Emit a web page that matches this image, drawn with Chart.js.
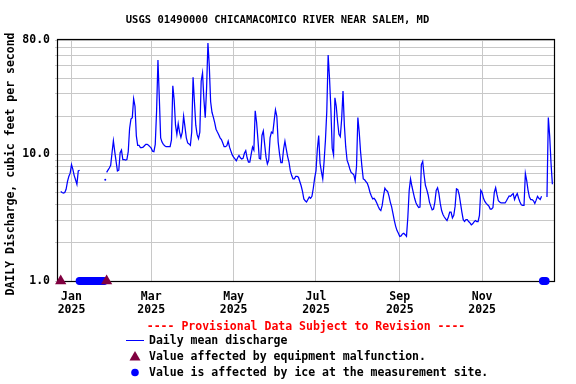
<!DOCTYPE html>
<html>
<head>
<meta charset="utf-8">
<script src="https://cdn.jsdelivr.net/npm/chart.js@4"></script>
<style>
  html, body { margin: 0; padding: 0; background: #fff; }
  #c { display: block; }
</style>
</head>
<body>
<canvas id="c" width="576" height="384"></canvas>
<script>
// ---- Data (day offsets relative to 2025-01-01) ----
const chartTitle = "USGS 01490000 CHICAMACOMICO RIVER NEAR SALEM, MD";
const yAxisTitle = "DAILY Discharge, cubic feet per second";
const provisionalText = "---- Provisional Data Subject to Revision ----";
const legendLabels = [
  "Daily mean discharge",
  "Value affected by equipment malfunction.",
  "Value is affected by ice at the measurement site."
];

const firstDay = -8; // Dec 24, 2024
const dailyFlow = [
  // Dec 24 .. Jan 7
  5.1, 5.0, 4.95, 5.0, 5.3, 6.1, 6.7, 7.1, 8.3, 7.6, 6.8, 6.3, 5.8, 7.4, 7.5,
  // d7..d24 (no data)
  null, null, null, null, null, null, null, null, null, null, null, null, null, null, null, null, null, null,
  // d25
  6.3,
  // d26..d223
  7.2, 7.5, 7.8, 8.2, 10.3, 12.8, 10.5, 8.8, 7.4, 7.5,
  10.3, 10.8, 9.1, 9.1, 9.0, 9.1, 10.5, 16, 19.0, 19.5,
  27.5, 24, 14, 11.8, 11.8, 11.3, 11.3, 11.4, 11.7, 12.0,
  12.0, 11.8, 11.5, 11.2, 10.6, 10.5, 12, 22.1, 55.7, 28,
  13.5, 12.5, 12.0, 11.7, 11.5, 11.5, 11.5, 11.5, 13, 34.8,
  27, 17, 14.4, 17.5, 15, 13.6, 15, 20, 16.5, 13.5,
  12.3, 12.1, 11.8, 15, 40.6, 26, 17, 14.3, 13.3, 15,
  38, 44, 27.3, 19.5, 33.2, 75.6, 50, 26, 21.5, 19.7,
  17.8, 15.8, 15, 14.3, 13.5, 13.1, 12.3, 11.5, 11.5, 11.7,
  12.7, 11.4, 10.6, 9.9, 9.5, 9.2, 8.9, 9.4, 9.8, 9.4,
  9.2, 9.3, 10.2, 10.7, 9.4, 8.7, 8.7, 10, 11.4, 10.8,
  22.1, 18, 13.2, 9.3, 9.2, 14.1, 15.3, 12, 9.5, 8.4,
  9.0, 13.5, 15, 14.7, 18.3, 22.5, 20, 12.5, 10.1, 8.6,
  8.6, 11, 12.7, 11, 9.6, 8.7, 7.4, 6.8, 6.4, 6.4,
  6.7, 6.7, 6.6, 6.1, 5.65, 5.1, 4.45, 4.3, 4.2, 4.4,
  4.6, 4.5, 4.66, 5.4, 6.5, 7.4, 11, 14.1, 8.5, 7.3,
  6.4, 8.8, 13, 22, 61, 40, 23, 11.2, 9.9, 28,
  24, 18, 14.4, 13.8, 19, 31.7, 17, 11.5, 9.0, 8.4,
  7.7, 7.2, 7.06, 6.9, 6.2, 8, 19.5, 15, 10.5, 8.0,
  6.4, 6.3, 6.1, 5.9, 5.5, 5.0, 4.7, 4.45,
  // d224..d348
  4.5, 4.35, 4.13, 3.9, 3.7, 3.6, 3.95, 4.7, 5.4, 5.2,
  5.1, 4.7, 4.2, 3.85, 3.4, 3.0, 2.7, 2.5, 2.38, 2.25,
  2.27, 2.35, 2.38, 2.32, 2.25, 3.2, 5.2, 6.4, 5.6, 5.0,
  4.5, 4.15, 3.95, 3.8, 3.84, 8.3, 8.8, 6.9, 5.7, 5.27,
  4.8, 4.2, 3.9, 3.65, 3.7, 4.2, 5.2, 5.45, 4.9, 4.1,
  3.6, 3.35, 3.2, 3.1, 3.0, 3.2, 3.5, 3.5, 3.15, 3.3,
  3.9, 5.35, 5.27, 4.8, 4.1, 3.5, 3.05, 2.95, 3.05, 3.05,
  2.95, 2.88, 2.78, 2.83, 2.93, 3.0, 2.95, 2.95, 3.3, 5.2,
  5.0, 4.5, 4.25, 4.1, 4.0, 3.9, 3.7, 3.7, 3.8, 5.0,
  5.45, 4.8, 4.3, 4.2, 4.13, 4.13, 4.13, 4.13, 4.3, 4.5,
  4.7, 4.66, 4.8, 4.9, 4.4, 4.7, 4.9, 4.5, 4.2, 4.0,
  3.95, 3.95, 7.06, 6.2, 5.2, 4.6, 4.4, 4.4, 4.3, 4.1,
  4.35, 4.66, 4.5, 4.4, 4.66,
  // d349..d351 (ice, no data)
  null, null, null,
  // d352..d356
  4.6, 19.5, 14, 8.5, 5.8
];
const lineBreakAfterDays = [25];            // record breaks between d25 and d26
const equipmentDays = [-8, 26];             // equipment malfunction markers
const iceDays = [6,7,8,9,10,11,12,13,14,15,16,17,18,19,20,21,22,23,24, 349,350,351];
const markerValue = 1.0;                    // markers sit on the bottom axis

const xMinDay = -10, xMaxDay = 357.2;
const tickDays   = [0, 59, 120, 181, 243, 304];
const tickMonths = ["Jan", "Mar", "May", "Jul", "Sep", "Nov"];
const tickYears  = ["2025", "2025", "2025", "2025", "2025", "2025"];
const yMin = 1, yMax = 80;
const yGridValues  = [1,2,3,4,5,6,7,8,9,10,20,30,40,50,60,70,80];
const yLabelValues = [1, 10, 80];

// ---- Styling ----
const FONT = '"DejaVu Sans Mono", "Liberation Mono", monospace';
const BLUE = '#0000ff';
const MAROON = '#800040';
const GRID = '#c8c8c8';

const flowPoints = dailyFlow.map((v, i) => ({ x: firstDay + i, y: v }));

function isIsolated(i) {
  const v = dailyFlow[i];
  if (v == null) return false;
  const d = firstDay + i;
  const prevMissing = i === 0 || dailyFlow[i - 1] == null || lineBreakAfterDays.includes(d - 1);
  const nextMissing = i === dailyFlow.length - 1 || dailyFlow[i + 1] == null || lineBreakAfterDays.includes(d);
  return prevMissing && nextMissing;
}

const framePlugin = {
  id: 'frame',
  beforeDatasetsDraw(chart) {
    const { ctx, chartArea: a } = chart;
    ctx.save();
    ctx.strokeStyle = '#000';
    ctx.lineWidth = 1.2;
    ctx.strokeRect(Math.round(a.left) - 0.5, Math.round(a.top) - 0.5,
                   Math.round(a.right - a.left) + 1, Math.round(a.bottom - a.top) + 1);
    ctx.restore();
  },
  afterDraw(chart) {
    const { ctx, chartArea: a } = chart;
    ctx.save();
    ctx.fillStyle = '#000';
    ctx.textBaseline = 'middle';
    // title
    ctx.font = 'bold 10.5px ' + FONT;
    ctx.textAlign = 'center';
    ctx.fillText(chartTitle, 277.5, 20.5);
    // y-axis title
    ctx.save();
    ctx.font = 'bold 11.5px ' + FONT;
    ctx.translate(11.5, 164);
    ctx.rotate(-Math.PI / 2);
    ctx.fillText(yAxisTitle, 0, 0);
    ctx.restore();
    // provisional text
    ctx.font = 'bold 11.5px ' + FONT;
    ctx.fillStyle = '#ff0000';
    ctx.textAlign = 'center';
    ctx.fillText(provisionalText, (a.left + a.right) / 2, 327);
    // legend
    ctx.fillStyle = '#000';
    ctx.textAlign = 'left';
    const rows = [341, 357, 373];
    legendLabels.forEach((t, i) => ctx.fillText(t, 149, rows[i]));
    // legend symbols
    ctx.strokeStyle = BLUE;
    ctx.lineWidth = 1;
    ctx.beginPath();
    ctx.moveTo(126, 340.5);
    ctx.lineTo(144, 340.5);
    ctx.stroke();
    ctx.fillStyle = MAROON;
    ctx.beginPath();
    ctx.moveTo(135, 351);
    ctx.lineTo(140.5, 360.5);
    ctx.lineTo(129.5, 360.5);
    ctx.closePath();
    ctx.fill();
    ctx.fillStyle = BLUE;
    ctx.beginPath();
    ctx.arc(135, 372.5, 3.8, 0, Math.PI * 2);
    ctx.fill();
    ctx.restore();
  }
};

new Chart(document.getElementById('c'), {
  type: 'line',
  data: {
    datasets: [
      {
        label: 'Value affected by equipment malfunction.',
        data: equipmentDays.map(d => ({ x: d, y: markerValue })),
        showLine: false,
        pointStyle: 'triangle',
        pointRadius: 6.5,
        pointBackgroundColor: MAROON,
        pointBorderWidth: 0,
        clip: false
      },
      {
        label: 'Value is affected by ice at the measurement site.',
        data: iceDays.map(d => ({ x: d, y: markerValue })),
        showLine: false,
        pointStyle: 'circle',
        pointRadius: 4,
        pointBackgroundColor: BLUE,
        pointBorderWidth: 0,
        clip: false
      },
      {
        label: 'Daily mean discharge',
        data: flowPoints,
        borderColor: BLUE,
        borderWidth: 1.25,
        tension: 0,
        spanGaps: false,
        fill: false,
        pointRadius: ctx => isIsolated(ctx.dataIndex) ? 1 : 0,
        pointBackgroundColor: BLUE,
        pointBorderWidth: 0,
        segment: {
          borderColor: ctx => lineBreakAfterDays.includes(ctx.p0.parsed.x) ? 'rgba(0,0,0,0)' : BLUE
        }
      }
    ]
  },
  options: {
    responsive: false,
    animation: false,
    devicePixelRatio: 1,
    events: [],
    layout: { padding: { left: 0, right: 22, top: 40, bottom: 0 } },
    plugins: {
      legend: { display: false },
      tooltip: { enabled: false },
      title: { display: false }
    },
    scales: {
      x: {
        type: 'linear',
        min: xMinDay,
        max: xMaxDay,
        afterBuildTicks: s => { s.ticks = tickDays.map(v => ({ value: v })); },
        afterFit: s => { s.height = 103; },
        ticks: {
          autoSkip: false,
          maxRotation: 0,
          minRotation: 0,
          padding: 10,
          color: '#000',
          font: { family: FONT, size: 11.5, weight: 'bold', lineHeight: 1.1 },
          callback: (v, i) => [tickMonths[i], tickYears[i]]
        },
        grid: { color: GRID, lineWidth: 1, drawTicks: false },
        border: { display: false }
      },
      y: {
        type: 'logarithmic',
        min: yMin,
        max: yMax,
        afterBuildTicks: s => { s.ticks = yGridValues.map(v => ({ value: v })); },
        afterFit: s => { s.width = 58; },
        ticks: {
          autoSkip: false,
          padding: 5,
          color: '#000',
          font: { family: FONT, size: 11.5, weight: 'bold' },
          callback: v => yLabelValues.includes(v) ? Number(v).toFixed(1) : ''
        },
        grid: { color: GRID, lineWidth: 1, drawTicks: true, tickLength: 3 },
        border: { display: false }
      }
    }
  },
  plugins: [framePlugin]
});
</script>
</body>
</html>
